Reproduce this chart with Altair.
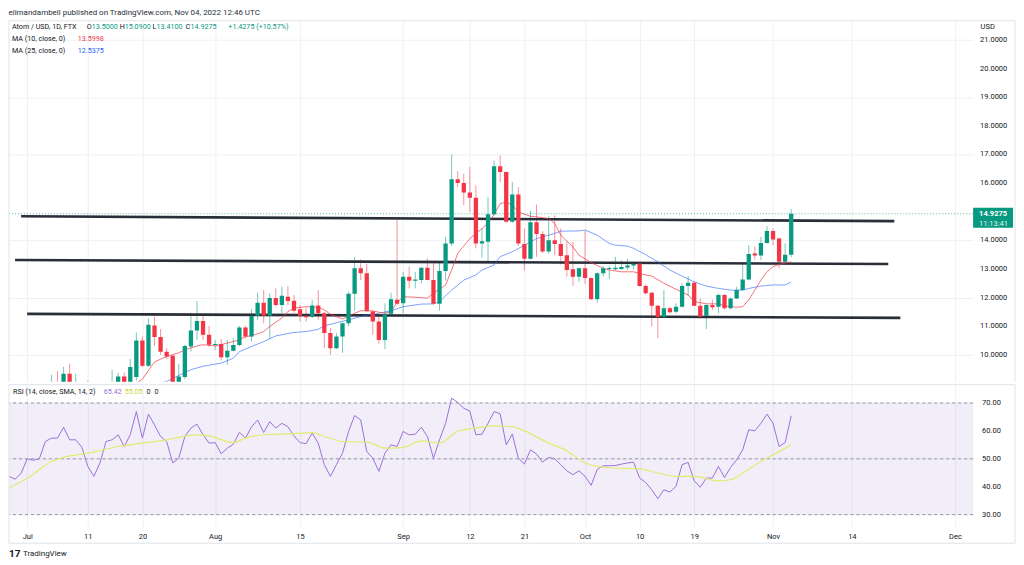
import altair as alt
import pandas as pd

GREEN = "#089981"
RED = "#f23645"
TXT = "#131722"
GRID = "#eef0f6"

# ---------------- data ----------------
dates = pd.date_range("2022-06-28", "2022-11-04", freq="D").strftime("%Y-%m-%d").tolist()

opens = [
    8.9, 8.5, 8.3,  # Jun 28-30
    8.2, 8.6, 8.55, 8.7, 8.95, 9.0, 8.95, 9.34, 9.0, 9.05, 8.7, 8.4, 8.3, 8.6, 8.9, 9.0,
    9.24, 9.0, 9.22, 10.5, 9.62, 11.02, 10.62, 10.11, 9.97, 8.95, 9.22, 10.29, 10.85, 11.18, 10.7,  # Jul
    10.34, 10.38, 9.91, 10.14, 10.34, 10.95, 10.64, 11.36, 11.82, 11.36, 11.98, 11.74, 12.03, 11.89, 11.59, 11.36,
    11.33, 11.72, 11.45, 10.76, 10.23, 10.64, 11.1, 12.13, 13.02, 12.85, 11.51, 11.16, 10.52, 11.43, 11.92,  # Aug
    11.8, 12.73, 12.59, 12.61, 13.04, 12.61, 11.78, 12.93, 13.89, 16.13, 16.0, 15.67, 15.49, 13.89, 13.95,
    14.91, 16.59, 16.39, 14.65, 15.6, 13.87, 13.36, 14.63, 14.22, 13.61, 14.0, 13.87, 13.48, 12.99, 12.73,  # Sep
    13.02, 12.68, 11.94, 12.85, 13.0, 12.99, 13.0, 13.05, 13.12, 13.19, 12.4, 12.17, 11.71, 11.31, 11.63, 11.5,
    11.68, 12.4, 12.52, 11.71, 11.36, 11.74, 11.68, 12.09, 11.63, 11.97, 12.26, 12.63, 13.54, 13.47, 13.91,  # Oct
    14.33, 14.06, 13.25, 13.5,  # Nov
]
highs = [
    9.0, 8.7, 8.5,
    8.7, 8.8, 8.9, 9.0, 9.3, 9.44, 9.58, 9.69, 9.34, 9.05, 9.1, 8.6, 8.8, 9.0, 9.48, 9.38,
    9.38, 9.86, 10.78, 10.64, 11.27, 11.33, 10.9, 10.23, 10.0, 9.69, 10.35, 11.47, 11.88, 11.39, 11.01,
    10.52, 10.55, 10.52, 10.58, 11.01, 11.01, 11.6, 12.18, 12.26, 12.15, 12.32, 12.38, 12.4, 12.09, 11.74, 11.63,
    11.92, 12.26, 11.5, 10.94, 10.75, 11.12, 12.2, 13.42, 13.33, 13.17, 11.55, 11.39, 11.8, 12.17, 14.73,
    12.9, 13.08, 12.9, 13.05, 13.37, 13.19, 13.22, 14.12, 17.0, 16.41, 16.33, 16.56, 15.92, 14.41, 15.52,
    16.79, 16.97, 16.41, 16.04, 15.86, 14.41, 15.03, 15.25, 14.32, 14.84, 14.87, 14.41, 13.95, 13.95, 13.05,
    14.33, 12.7, 12.88, 13.1, 13.1, 13.42, 13.3, 13.35, 13.25, 13.22, 12.45, 12.2, 11.75, 12.26, 11.68, 11.8,
    12.5, 12.75, 12.55, 11.97, 11.76, 11.92, 12.15, 12.12, 12.0, 12.38, 13.19, 13.83, 13.78, 14.12, 14.49,
    14.41, 14.1, 13.89, 15.09,
]
lows = [
    8.4, 8.1, 7.9,
    8.0, 8.4, 8.4, 8.5, 8.7, 8.8, 8.9, 8.9, 8.9, 8.6, 8.3, 8.1, 8.1, 8.5, 8.8, 8.9,
    8.9, 8.9, 9.1, 9.57, 9.57, 10.31, 10.0, 9.85, 8.85, 8.9, 9.15, 10.11, 10.52, 10.52, 10.27,
    10.17, 9.8, 9.65, 10.11, 10.31, 10.57, 10.46, 11.22, 11.1, 10.55, 11.68, 11.45, 11.74, 11.47, 11.16, 11.16,
    11.28, 11.22, 10.24, 10.0, 10.2, 10.07, 11.0, 11.54, 12.61, 11.5, 10.7, 10.38, 10.2, 11.4, 11.75,
    11.45, 12.32, 12.32, 12.5, 12.6, 11.75, 11.54, 12.6, 13.8, 15.86, 15.23, 14.99, 13.72, 13.4, 13.22,
    14.87, 16.04, 14.61, 14.61, 13.8, 12.94, 13.33, 13.42, 13.56, 13.54, 13.48, 13.16, 12.73, 12.4, 12.55,
    12.47, 11.92, 11.82, 12.73, 12.65, 12.95, 12.97, 12.97, 12.98, 12.38, 12.1, 10.99, 10.58, 11.3, 11.45, 11.45,
    11.65, 12.06, 11.7, 11.28, 10.9, 11.57, 11.45, 11.58, 11.58, 11.95, 12.24, 12.6, 13.33, 13.31, 13.88,
    13.83, 13.02, 13.19, 13.41,
]
closes = [
    8.5, 8.3, 8.2,
    8.6, 8.55, 8.7, 8.95, 9.0, 8.95, 9.34, 9.0, 9.05, 8.7, 8.4, 8.3, 8.6, 8.9, 9.0, 9.24,
    9.0, 9.57, 10.5, 9.62, 11.05, 10.62, 10.11, 9.94, 8.95, 9.24, 10.31, 10.85, 11.18, 10.7, 10.35,
    10.38, 9.91, 10.14, 10.34, 10.95, 10.64, 11.36, 11.82, 11.36, 11.98, 11.74, 12.06, 11.88, 11.54, 11.36, 11.31,
    11.72, 11.45, 10.76, 10.23, 10.64, 11.1, 12.13, 13.02, 12.85, 11.54, 11.16, 10.52, 11.43, 11.94, 11.78,
    12.73, 12.59, 12.63, 13.04, 12.61, 11.78, 12.93, 13.89, 16.13, 16.0, 15.67, 15.49, 13.89, 13.97, 14.91,
    16.59, 16.39, 14.65, 15.6, 13.89, 13.36, 14.63, 14.22, 13.61, 14.0, 13.87, 13.45, 12.96, 12.73, 13.02,
    12.68, 11.94, 12.85, 13.02, 13.03, 13.04, 13.07, 13.12, 13.18, 12.4, 12.15, 11.71, 11.31, 11.63, 11.49, 11.68,
    12.4, 12.52, 11.71, 11.33, 11.74, 11.66, 12.09, 11.63, 11.97, 12.26, 12.63, 13.52, 13.47, 13.91, 14.33,
    14.03, 13.25, 13.5, 14.9275,
]

rsi = [
    43.7, 42.7, 44.8,
    50, 49.5, 50, 56.2, 57.4, 57.4, 61.3, 56.8, 56.8, 54.2, 47.3, 43.7, 48.5, 56.2, 56.8, 58.6,
    54.4, 58.6, 66.9, 57.4, 66, 62.1, 58, 56.2, 48.5, 50.2, 58, 61, 62.4, 58.6, 55.6,
    55.8, 51.8, 53.8, 55.2, 59.5, 57.4, 61.5, 63.9, 59.4, 63.3, 61, 62.7, 61.5, 58.2, 55.8, 55.4,
    59.2, 55.6, 47.9, 43.7, 47.9, 52, 59.8, 65.5, 63.9, 52.6, 50.2, 45.5, 52, 55, 54.4,
    59.8, 58.6, 58.8, 61.3, 58, 50.2, 56.8, 62.7, 71.7, 70.2, 68.1, 67.1, 58.6, 58.8, 62.7,
    66.9, 66.1, 55, 58.8, 50.2, 48.1, 53.2, 51.7, 48.8, 50.5, 50, 47.9, 45.7, 44.3, 45.7,
    43.7, 40.5, 46.1, 47.5, 47.5, 47.6, 48.1, 48.5, 48.8, 43.1, 41.5, 38.9, 35.7, 38.9, 38.1, 40.1,
    47.9, 48.7, 42.1, 39.8, 43.1, 43.1, 47.3, 43.3, 46.9, 49.6, 53.2, 60.4, 60, 62.7, 66,
    62.7, 54.4, 55.8, 65.42,
]

ma10_dates = ["2022-07-18", "2022-07-20", "2022-07-22", "2022-07-24", "2022-07-26", "2022-07-27", "2022-07-29", "2022-07-30",
              "2022-08-01", "2022-08-03", "2022-08-05", "2022-08-06", "2022-08-07", "2022-08-09", "2022-08-10", "2022-08-12",
              "2022-08-13", "2022-08-14", "2022-08-16", "2022-08-18", "2022-08-19", "2022-08-20", "2022-08-22", "2022-08-24",
              "2022-08-25", "2022-08-27", "2022-08-29", "2022-08-30", "2022-08-31",
              "2022-09-01", "2022-09-03", "2022-09-05", "2022-09-06", "2022-09-08", "2022-09-09", "2022-09-10", "2022-09-12",
              "2022-09-13", "2022-09-14", "2022-09-15", "2022-09-16", "2022-09-17", "2022-09-18", "2022-09-19", "2022-09-20",
              "2022-09-22", "2022-09-23", "2022-09-25", "2022-09-26", "2022-09-27", "2022-09-29", "2022-09-30",
              "2022-10-02", "2022-10-04", "2022-10-05", "2022-10-07", "2022-10-09", "2022-10-11", "2022-10-12", "2022-10-14",
              "2022-10-16", "2022-10-18", "2022-10-19", "2022-10-21", "2022-10-23", "2022-10-24", "2022-10-26", "2022-10-27",
              "2022-10-28", "2022-10-29", "2022-10-30", "2022-10-31", "2022-11-01", "2022-11-02", "2022-11-04"]
ma10_vals = [8.85, 9.15, 9.75, 9.94, 10.07, 10.17, 10.31, 10.35,
             10.31, 10.41, 10.52, 10.64, 10.66, 10.81, 10.99, 11.28, 11.51, 11.63, 11.68, 11.66, 11.57, 11.42, 11.25, 11.45,
             11.54, 11.53, 11.45, 11.51, 11.83,
             12.03, 12.01, 11.98, 12.15, 12.44, 12.96, 13.54, 14.06, 14.24, 14.41, 14.6, 14.9, 15.28, 15.34, 15.23, 14.99,
             14.84, 14.82, 14.76, 14.59, 14.18, 13.77, 13.48,
             13.22, 13.02, 12.96, 12.9, 12.9, 12.79, 12.75, 12.5, 12.29, 12.09, 11.86, 11.78, 11.78, 11.71, 11.66, 11.68,
             11.92, 12.26, 12.61, 12.9, 13.08, 13.16, 13.25]

ma25_dates = ["2022-07-22", "2022-07-24", "2022-07-26", "2022-07-28", "2022-07-30",
              "2022-08-02", "2022-08-04", "2022-08-05", "2022-08-07", "2022-08-09", "2022-08-11", "2022-08-14", "2022-08-16",
              "2022-08-18", "2022-08-19", "2022-08-21", "2022-08-23", "2022-08-26", "2022-08-28", "2022-08-30",
              "2022-09-01", "2022-09-04", "2022-09-06", "2022-09-07", "2022-09-09", "2022-09-11", "2022-09-13", "2022-09-14",
              "2022-09-16", "2022-09-17", "2022-09-19", "2022-09-21", "2022-09-23", "2022-09-26", "2022-09-27", "2022-09-30",
              "2022-10-01", "2022-10-03", "2022-10-05", "2022-10-06", "2022-10-08", "2022-10-09", "2022-10-11", "2022-10-13",
              "2022-10-15", "2022-10-17", "2022-10-19", "2022-10-21", "2022-10-23", "2022-10-25", "2022-10-27", "2022-10-28",
              "2022-10-30", "2022-11-01", "2022-11-03", "2022-11-04"]
ma25_vals = [8.95, 9.07, 9.28, 9.48, 9.6,
             9.71, 9.88, 10.11, 10.29, 10.46, 10.66, 10.78, 10.81, 10.89, 11.01, 11.12, 11.22, 11.39, 11.45, 11.54,
             11.68, 11.77, 11.78, 11.86, 12.26, 12.61, 12.79, 12.96, 13.14, 13.43, 13.6, 13.83, 14.06, 14.24, 14.32, 14.33,
             14.36, 14.18, 13.89, 13.83, 13.8, 13.72, 13.5, 13.25, 12.96, 12.75, 12.55, 12.4, 12.32, 12.26, 12.26, 12.32,
             12.4, 12.44, 12.44, 12.54]

sma_dates = ["2022-06-28", "2022-07-01", "2022-07-05", "2022-07-07", "2022-07-11", "2022-07-16", "2022-07-20", "2022-07-23",
             "2022-07-29", "2022-07-31", "2022-08-04", "2022-08-06", "2022-08-09", "2022-08-14", "2022-08-17", "2022-08-19",
             "2022-08-22", "2022-08-26", "2022-08-29", "2022-09-01", "2022-09-04", "2022-09-07", "2022-09-10", "2022-09-13",
             "2022-09-16", "2022-09-19", "2022-09-21", "2022-09-25", "2022-09-28", "2022-10-01", "2022-10-03", "2022-10-06",
             "2022-10-10", "2022-10-13", "2022-10-16", "2022-10-19", "2022-10-23", "2022-10-25", "2022-10-27", "2022-10-30",
             "2022-11-01", "2022-11-04"]
sma_vals = [39.5, 43, 49, 50.5, 52, 54.4, 55.6, 56.4, 58.6, 58.2, 55.8, 57.4, 58.6, 59, 59.4, 58, 56.2, 56, 53.8, 54,
            56.4, 55.6, 59.8, 61, 61.8, 61.5, 60, 55.6, 52.9, 48.5, 47.3, 46.7, 46.4, 44.9, 43.7, 43.7, 42.1, 42.5, 44.9,
            49, 51.4, 55.05]

trend_ids = ["top", "top", "mid", "mid", "low", "low"]
trend_dates = ["2022-06-30", "2022-11-21", "2022-06-29", "2022-11-20", "2022-07-01", "2022-11-22"]
trend_prices = [14.84, 14.67, 13.31, 13.17, 11.43, 11.29]

last_price = [14.9275]
last_price_label = ["14.9275"]
countdown_label = ["11:13:41"]

price_ticks = [10, 11, 12, 13, 14, 16, 17, 18, 19, 20, 21]
rsi_ticks = [30, 40, 50, 60, 70]
rsi_levels = [70, 50, 30]
tick_md = [(7, 1), (7, 11), (7, 20), (8, 1), (8, 15), (9, 1), (9, 12), (9, 21), (10, 1), (10, 10), (10, 19),
           (11, 1), (11, 14), (12, 1)]

assert len(opens) == len(highs) == len(lows) == len(closes) == len(rsi) == len(dates)

# ---------------- layout ----------------
W = 967
H_PRICE = 362
H_RSI = 142
FONT = "Roboto"
FS = 7.5
HS = 7.2  # header text size

x_domain = [alt.DateTime(year=2022, month=6, date=28, utc=True),
            alt.DateTime(year=2022, month=12, date=4, utc=True)]
x_ticks = [alt.DateTime(year=2022, month=m, date=d, utc=True) for m, d in tick_md]
xscale = alt.Scale(type="utc", domain=x_domain)
label_expr = ("utcFormat(datum.value, '%d') == '01' ? utcFormat(datum.value, '%b') "
              ": utcFormat(datum.value, '%-d')")

candles = pd.DataFrame({"date": dates, "open": opens, "high": highs, "low": lows, "close": closes})
ma10 = pd.DataFrame({"date": ma10_dates, "v": ma10_vals})
ma25 = pd.DataFrame({"date": ma25_dates, "v": ma25_vals})
trend = pd.DataFrame({"id": trend_ids, "date": trend_dates, "p": trend_prices})
tag = pd.DataFrame({"p": last_price, "lab": last_price_label, "cd": countdown_label})
rsi_df = pd.DataFrame({"date": dates, "v": rsi})
sma_df = pd.DataFrame({"date": sma_dates, "v": sma_vals})
band = pd.DataFrame({"lo": [30], "hi": [70]})
levels = pd.DataFrame({"lv": rsi_levels})
price_tick_df = pd.DataFrame({"v": price_ticks})
rsi_tick_df = pd.DataFrame({"v": rsi_ticks})
one = pd.DataFrame({"k": [0]})

up = alt.condition("datum.close >= datum.open", alt.value(GREEN), alt.value(RED))

yscale_p = alt.Scale(domain=[9.059, 21.672], nice=False, zero=False)
yaxis_p = alt.Axis(orient="right", values=price_ticks, labels=False, grid=True, gridColor=GRID, ticks=False,
                   domain=False,
                   title="USD", titleAngle=0, titleAlign="left", titleBaseline="middle", titleX=7, titleY=6,
                   titleFont=FONT, titleFontSize=FS, titleFontWeight="normal", titleColor=TXT)
xaxis_p = alt.Axis(values=x_ticks, labels=False, ticks=False, domain=False, grid=True, gridColor=GRID, title=None)


def txt(s, x, y, color, size=HS, weight="normal"):
    return alt.Chart(one).mark_text(text=s, align="left", baseline="middle", font=FONT, fontSize=size,
                                    color=color, fontWeight=weight).encode(x=alt.value(x), y=alt.value(y))


def hline(x1, x2, y, color="#e0e3eb"):
    return alt.Chart(one).mark_rule(color=color, strokeWidth=1, clip=False).encode(
        x=alt.value(x1), x2=alt.value(x2), y=alt.value(y))


def vline(x, y1, y2, color="#e0e3eb"):
    return alt.Chart(one).mark_rule(color=color, strokeWidth=1, clip=False).encode(
        x=alt.value(x), y=alt.value(y1), y2=alt.value(y2))


wick = alt.Chart(candles).mark_rule(strokeWidth=1, clip=True, opacity=0.55).encode(
    x=alt.X("date:T", scale=xscale, axis=xaxis_p),
    y=alt.Y("low:Q", scale=yscale_p, axis=yaxis_p),
    y2="high:Q",
    color=up,
)
body = alt.Chart(candles).mark_rule(strokeWidth=4.3, clip=True).encode(
    x="date:T", y="open:Q", y2="close:Q", color=up)

price_labels = alt.Chart(price_tick_df).mark_text(align="left", baseline="middle", font=FONT, fontSize=FS,
                                                  color=TXT, clip=False).encode(
    x=alt.value(W + 7), y="v:Q", text=alt.Text("v:Q", format=".4f"))

ma10_line = alt.Chart(ma10).mark_line(color="#f23645", strokeWidth=1, opacity=0.7, clip=True).encode(
    x="date:T", y="v:Q")
ma25_line = alt.Chart(ma25).mark_line(color="#2962ff", strokeWidth=1, opacity=0.6, clip=True).encode(
    x="date:T", y="v:Q")
trend_lines = alt.Chart(trend).mark_line(color="#2a2e39", strokeWidth=2.6, clip=True).encode(
    x="date:T", y="p:Q", detail="id:N")
price_line = alt.Chart(tag).mark_rule(color=GREEN, strokeWidth=1, strokeDash=[1, 2], opacity=0.7).encode(y="p:Q")
tag_box = alt.Chart(tag).mark_rect(color=GREEN, clip=False, yOffset=-6, y2Offset=14).encode(
    x=alt.value(W), x2=alt.value(W + 40), y="p:Q", y2="p:Q")
tag_txt = alt.Chart(tag).mark_text(align="left", baseline="middle", font=FONT, fontSize=FS, color="white",
                                   fontWeight="bold").encode(x=alt.value(W + 6), y="p:Q", text="lab:N")
tag_cd = alt.Chart(tag).mark_text(align="left", baseline="middle", font=FONT, fontSize=FS, color="#e6f4f1",
                                  dy=10).encode(x=alt.value(W + 6), y="p:Q", text="cd:N")

legend_layers = [
    txt("Atom / USD, 1D, FTX", 3, 6, TXT),
    txt("O", 78, 6, TXT), txt("13.5000", 83, 6, GREEN),
    txt("H", 111, 6, TXT), txt("15.0900", 116, 6, GREEN),
    txt("L", 144, 6, TXT), txt("13.4100", 148, 6, GREEN),
    txt("C", 177, 6, TXT), txt("14.9275", 182, 6, GREEN),
    txt("+1.4275 (+10.57%)", 220, 6, GREEN),
    txt("MA (10, close, 0)", 3, 18, TXT), txt("13.5998", 69, 18, RED),
    txt("MA (25, close, 0)", 3, 30, TXT), txt("12.5375", 69, 30, "#2962ff"),
]

price = alt.layer(
    wick, price_line, trend_lines, ma25_line, ma10_line, body, price_labels, tag_box, tag_txt, tag_cd,
    hline(0, 1009, 0), vline(1009, 0, H_PRICE), vline(0, 0, H_PRICE),
    *legend_layers,
).properties(width=W, height=H_PRICE)

# ---------------- RSI pane ----------------
yscale_r = alt.Scale(domain=[25.82, 76.54], nice=False, zero=False)
yaxis_r = alt.Axis(orient="right", values=rsi_ticks, labels=False, grid=True, gridColor=GRID, ticks=False,
                   domain=False, title=None)
xaxis_r = alt.Axis(values=x_ticks, labelExpr=label_expr, labelFont=FONT, labelFontSize=FS, labelColor=TXT,
                   ticks=False, domain=False, grid=True, gridColor=GRID, title=None, labelPadding=6,
                   labelBaseline="top", labelFlush=False, labelOverlap=False)

band_rect = alt.Chart(band).mark_rect(color="#7e57c2", opacity=0.1).encode(
    x=alt.value(0), x2=alt.value(W),
    y=alt.Y("lo:Q", scale=yscale_r, axis=yaxis_r), y2="hi:Q")
level_rules = alt.Chart(levels).mark_rule(color="#9598a1", strokeDash=[3, 3], strokeWidth=1).encode(y="lv:Q")
rsi_line = alt.Chart(rsi_df).mark_line(color="#9c6fd8", strokeWidth=1, clip=True).encode(
    x=alt.X("date:T", scale=xscale, axis=xaxis_r), y="v:Q")
sma_line = alt.Chart(sma_df).mark_line(color="#e3ea72", strokeWidth=1.2, interpolate="monotone", clip=True).encode(
    x="date:T", y="v:Q")
rsi_labels = alt.Chart(rsi_tick_df).mark_text(align="left", baseline="middle", font=FONT, fontSize=FS,
                                              color=TXT, clip=False).encode(
    x=alt.value(W + 9), y="v:Q", text=alt.Text("v:Q", format=".2f"))

rsi_layers = [
    txt("RSI (14, close, SMA, 14, 2)", 4, 7, TXT),
    txt("65.42", 95, 7, "#9c6fd8"),
    txt("55.05", 116, 7, "#c9d23a"),
    txt("0", 138, 7, TXT), txt("0", 146, 7, TXT),
    txt("17", 0, 170, TXT, size=10, weight="bold"),
    txt("TradingView", 14, 170, TXT, size=8),
]

rsi_chart = alt.layer(
    band_rect, rsi_line, level_rules, sma_line, rsi_labels,
    hline(0, 1009, 0), hline(0, 1009, 159), vline(1009, 0, 159), vline(0, 0, 159),
    *rsi_layers,
).properties(width=W, height=H_RSI)

chart = alt.vconcat(price, rsi_chart, spacing=1).properties(
    padding=0,
    title=alt.TitleParams("elimandambell published on TradingView.com, Nov 04, 2022 12:46 UTC",
                          anchor="start", font=FONT, fontSize=FS + 0.5, fontWeight="normal", color="#2a2e39",
                          offset=3),
).configure_view(stroke=None).configure_axis(labelFont=FONT)

chart.save("out.html", embed_options={"renderer": "svg", "actions": False})
